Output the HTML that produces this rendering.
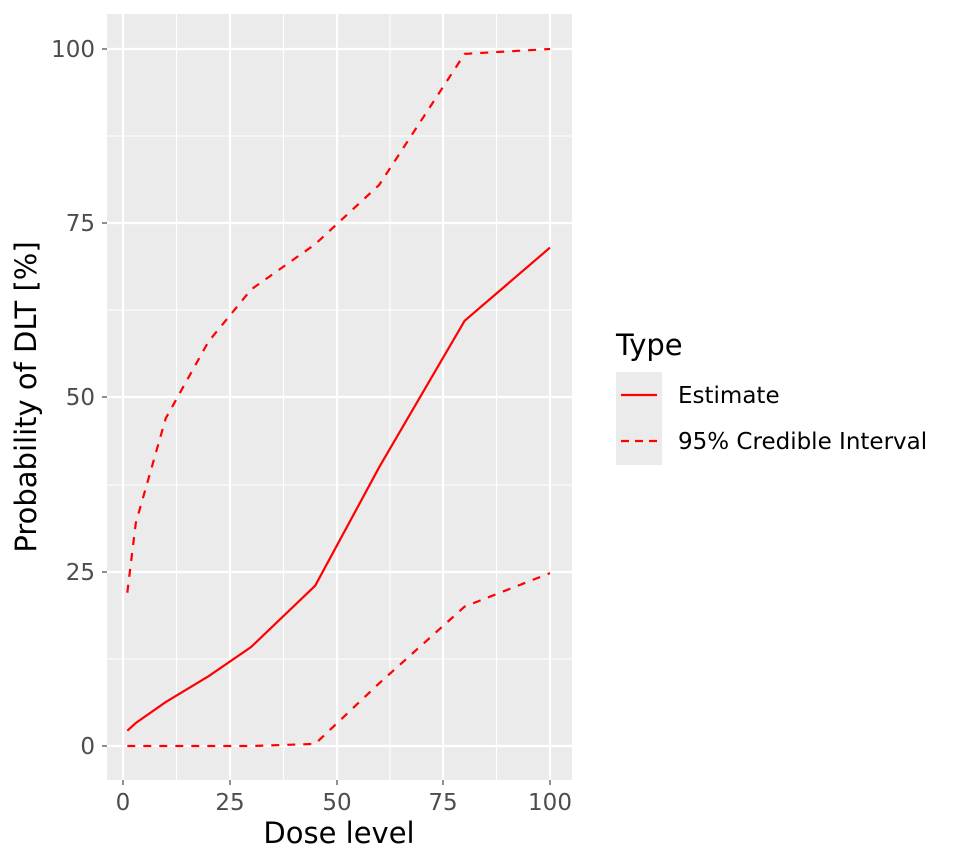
<!DOCTYPE html>
<html><head><style>body{margin:0;background:#fff}svg{display:block}text{font-family:"DejaVu Sans","Liberation Sans",sans-serif}</style></head>
<body>
<svg width="960" height="865" xmlns="http://www.w3.org/2000/svg">
<rect x="107" y="14" width="465" height="766" fill="#ebebeb"/>
<g stroke="#fff" stroke-width="1.1">
<line x1="107" x2="572" y1="659" y2="659"/><line x1="107" x2="572" y1="485" y2="485"/><line x1="107" x2="572" y1="310" y2="310"/><line x1="107" x2="572" y1="136" y2="136"/>
<line y1="14" y2="780" x1="176.5" x2="176.5"/><line y1="14" y2="780" x1="283.5" x2="283.5"/><line y1="14" y2="780" x1="390" x2="390"/><line y1="14" y2="780" x1="496.5" x2="496.5"/>
</g>
<g stroke="#fff" stroke-width="2.2">
<line x1="107" x2="572" y1="746" y2="746"/><line x1="107" x2="572" y1="572" y2="572"/><line x1="107" x2="572" y1="397" y2="397"/><line x1="107" x2="572" y1="223" y2="223"/><line x1="107" x2="572" y1="49" y2="49"/>
<line y1="14" y2="780" x1="123" x2="123"/><line y1="14" y2="780" x1="230" x2="230"/><line y1="14" y2="780" x1="337" x2="337"/><line y1="14" y2="780" x1="443" x2="443"/><line y1="14" y2="780" x1="550" x2="550"/>
</g>
<g fill="none" stroke="#f00" stroke-width="2.2">
<polyline points="127.3,730.7 135.8,723 165.7,702.1 208.4,676.3 251.1,647 315.2,585.7 379.2,467.2 464.6,320.8 550,247.6"/>
<polyline stroke-dasharray="8,8" points="127.3,592.7 135.8,523 165.7,418.4 208.4,341.7 251.1,289.5 315.2,244.2 379.2,184.9 464.6,53.9 550,49"/>
<polyline stroke-dasharray="8,8" points="127.3,746 251.1,746 315.2,743.9 379.2,683.3 464.6,606.6 550,573.1"/>
</g>
<g stroke="#333" stroke-width="1.1">
<line x1="102" x2="107" y1="746" y2="746"/><line x1="102" x2="107" y1="572" y2="572"/><line x1="102" x2="107" y1="397" y2="397"/><line x1="102" x2="107" y1="223" y2="223"/><line x1="102" x2="107" y1="49" y2="49"/>
<line y1="780" y2="785" x1="123" x2="123"/><line y1="780" y2="785" x1="230" x2="230"/><line y1="780" y2="785" x1="337" x2="337"/><line y1="780" y2="785" x1="443" x2="443"/><line y1="780" y2="785" x1="550" x2="550"/>
</g>
<g fill="#4d4d4d" font-size="23" text-anchor="end">
<text x="95" y="754">0</text><text x="95" y="580">25</text><text x="95" y="405">50</text><text x="95" y="231">75</text><text x="95" y="57">100</text>
</g>
<g fill="#4d4d4d" font-size="23" text-anchor="middle">
<text x="123" y="810">0</text><text x="230" y="810">25</text><text x="337" y="810">50</text><text x="443" y="810">75</text><text x="550" y="810">100</text>
</g>
<text x="339" y="843" font-size="29" text-anchor="middle">Dose level</text>
<text transform="translate(36,397) rotate(-90)" font-size="29" text-anchor="middle">Probability of DLT [%]</text>
<text x="616" y="355" font-size="29">Type</text>
<rect x="616" y="372" width="46" height="93" fill="#ebebeb"/>
<line x1="621" x2="657" y1="395" y2="395" stroke="#f00" stroke-width="2.2"/>
<line x1="621" x2="657" y1="441" y2="441" stroke="#f00" stroke-width="2.2" stroke-dasharray="8,6"/>
<text x="678" y="403" font-size="23">Estimate</text>
<text x="678" y="449" font-size="23">95% Credible Interval</text>
</svg>
</body></html>
